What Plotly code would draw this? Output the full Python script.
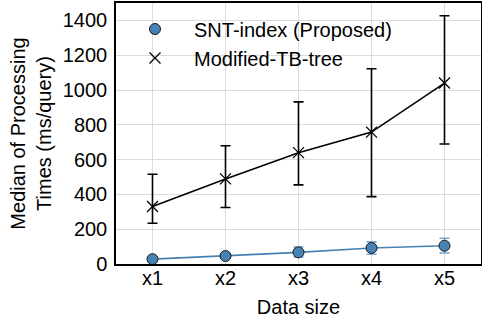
import plotly.graph_objects as go

categories = ["x1", "x2", "x3", "x4", "x5"]

snt_median = [28, 46, 67, 92, 105]
snt_err_plus = [8, 10, 31, 35, 43]
snt_err_minus = [8, 10, 27, 36, 42]

tb_median = [330, 489, 640, 758, 1040]
tb_err_plus = [186, 191, 292, 364, 387]
tb_err_minus = [96, 164, 185, 371, 350]

y_ticks = [0, 200, 400, 600, 800, 1000, 1200, 1400]

FONT = "Liberation Sans, Arial, sans-serif"
BLUE = "#4682b4"
FS = 20

fig = go.Figure()

fig.add_trace(go.Scatter(
    x=categories, y=tb_median, mode="lines+markers",
    line=dict(color="black", width=1.6),
    marker=dict(symbol="x-thin", size=11, line=dict(color="black", width=1.3), color="black"),
    error_y=dict(type="data", symmetric=False, array=tb_err_plus, arrayminus=tb_err_minus,
                 color="black", thickness=1.6, width=5),
    showlegend=False,
))

fig.add_trace(go.Scatter(
    x=categories, y=snt_median, mode="lines+markers",
    line=dict(color=BLUE, width=1.6),
    marker=dict(symbol="circle", size=11, color=BLUE, line=dict(color="#1a1a1a", width=1)),
    error_y=dict(type="data", symmetric=False, array=snt_err_plus, arrayminus=snt_err_minus,
                 color="#7aa6d0", thickness=1.6, width=5),
    showlegend=False,
))

# legend entries (markers only, as in the reference)
fig.add_trace(go.Scatter(
    x=[None], y=[None], mode="markers", name="SNT-index (Proposed)",
    marker=dict(symbol="circle", size=11, color=BLUE, line=dict(color="#1a1a1a", width=1)),
    legendgroup="a",
))
fig.add_trace(go.Scatter(
    x=[None], y=[None], mode="markers", name="Modified-TB-tree",
    marker=dict(symbol="x-thin", size=11, color="black", line=dict(color="black", width=1.3)),
    legendgroup="b",
))

fig.update_layout(
    width=482, height=320,
    margin=dict(l=116, r=1, t=3, b=56),
    paper_bgcolor="white", plot_bgcolor="white",
    font=dict(family=FONT, size=FS, color="black"),
    legend=dict(x=0.0, y=0.975, xanchor="left", yanchor="top",
                bgcolor="rgba(0,0,0,0)", borderwidth=0,
                font=dict(size=FS), tracegroupgap=0, itemwidth=68),
    xaxis=dict(
        type="category", categoryorder="array", categoryarray=categories,
        range=[-0.5, 4.5], automargin=False,
        showgrid=True, gridcolor="#dcdcdc", gridwidth=1,
        showline=True, linecolor="black", linewidth=1.5, mirror=True,
        ticks="", tickfont=dict(size=FS), ticklabelstandoff=-5,
        title=dict(text="Data size", font=dict(size=FS), standoff=12),
    ),
    yaxis=dict(
        range=[0, 1500], automargin=False,
        tickvals=y_ticks, ticktext=[str(v) for v in y_ticks],
        showgrid=True, gridcolor="#dcdcdc", gridwidth=1,
        showline=True, linecolor="black", linewidth=1.5, mirror=True,
        zeroline=False, ticks="", tickfont=dict(size=FS), ticklabelstandoff=3,
        title=dict(text="Median of Processing<br>Times (ms/query)", font=dict(size=FS), standoff=6),
    ),
)

fig.write_html("out.html", config={"displayModeBar": False},
               post_script="document.body.style.margin='0';")
